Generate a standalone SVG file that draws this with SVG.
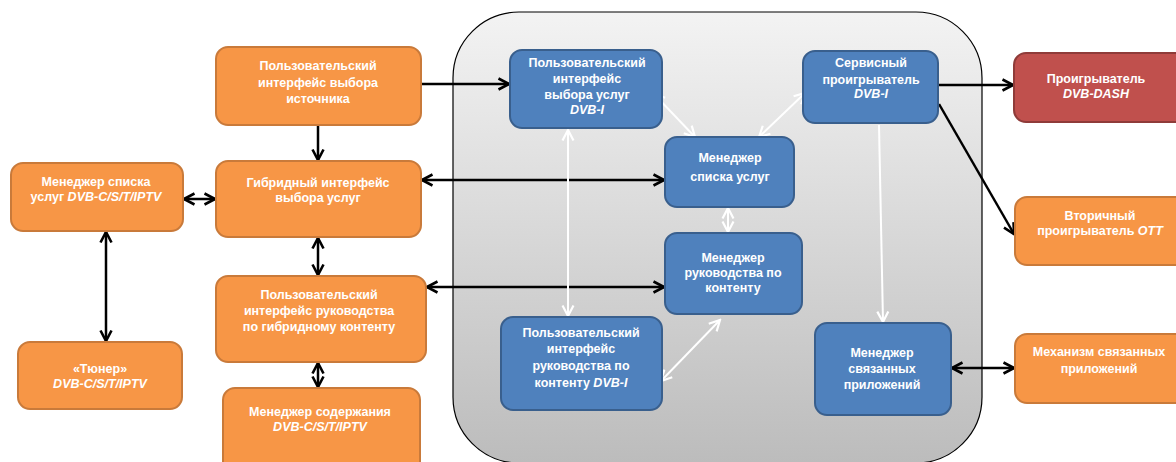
<svg xmlns="http://www.w3.org/2000/svg" width="1176" height="462" viewBox="0 0 1176 462">
<defs>
<linearGradient id="bg" x1="0" y1="0" x2="0" y2="1">
<stop offset="0" stop-color="#f3f3f3"/>
<stop offset="1" stop-color="#bcbcbc"/>
</linearGradient>
<marker id="kb" viewBox="0 0 14 14" refX="12.5" refY="7" markerWidth="14" markerHeight="14" markerUnits="userSpaceOnUse" orient="auto-start-reverse">
<path d="M2,1.5 L12.5,7 L2,12.5" fill="none" stroke="#000" stroke-width="2.6"/>
</marker>
<marker id="wb" viewBox="0 0 14 14" refX="12.5" refY="7" markerWidth="14" markerHeight="14" markerUnits="userSpaceOnUse" orient="auto-start-reverse">
<path d="M2,1.5 L12.5,7 L2,12.5" fill="none" stroke="#fff" stroke-width="2.2"/>
</marker>
</defs>
<style>
.or{fill:#f79646;stroke:#c97a3a;stroke-width:2}
.bl{fill:#4f81bd;stroke:#395f8d;stroke-width:2}
.rd{fill:#c0504d;stroke:#8f3b39;stroke-width:2}
text{font-family:"Liberation Sans",Arial,sans-serif;font-size:12.5px;font-weight:bold;fill:#fff;text-anchor:middle}
.i{font-style:italic}
.k{stroke:#000;stroke-width:2.5;fill:none}
.w{stroke:#fff;stroke-width:2;fill:none}
</style>
<rect id="container" x="453" y="12" width="529" height="451" rx="66" ry="66" fill="url(#bg)" stroke="#000" stroke-width="1.2"/>

<g id="connectors">
<line class="k" x1="421" y1="84" x2="509" y2="84" marker-end="url(#kb)"/>
<line class="k" x1="318" y1="125" x2="318" y2="160" marker-end="url(#kb)"/>
<line class="k" x1="184" y1="199" x2="215" y2="199" marker-start="url(#kb)" marker-end="url(#kb)"/>
<line class="k" x1="106" y1="232" x2="106" y2="341" marker-start="url(#kb)" marker-end="url(#kb)"/>
<line class="k" x1="318" y1="238" x2="318" y2="275" marker-start="url(#kb)" marker-end="url(#kb)"/>
<line class="k" x1="318" y1="363" x2="318" y2="387" marker-start="url(#kb)" marker-end="url(#kb)"/>
<line class="k" x1="422" y1="180" x2="664" y2="180" marker-start="url(#kb)" marker-end="url(#kb)"/>
<line class="k" x1="427" y1="287" x2="664" y2="287" marker-start="url(#kb)" marker-end="url(#kb)"/>
<line class="k" x1="939" y1="85" x2="1013" y2="85" marker-end="url(#kb)"/>
<line class="k" x1="939" y1="104" x2="1014" y2="234" marker-end="url(#kb)"/>
<line class="k" x1="952" y1="368" x2="1014" y2="368" marker-start="url(#kb)" marker-end="url(#kb)"/>
<line class="w" x1="654" y1="94" x2="695" y2="137" marker-start="url(#wb)" marker-end="url(#wb)"/>
<line class="w" x1="805" y1="93" x2="759" y2="137" marker-start="url(#wb)" marker-end="url(#wb)"/>
<line class="w" x1="728" y1="208" x2="728" y2="232" marker-start="url(#wb)" marker-end="url(#wb)"/>
<line class="w" x1="568" y1="130" x2="568" y2="316" marker-start="url(#wb)" marker-end="url(#wb)"/>
<line class="w" x1="720" y1="320" x2="661" y2="381" marker-start="url(#wb)" marker-end="url(#wb)"/>
<line class="w" x1="879" y1="125" x2="883" y2="322" marker-end="url(#wb)"/>
</g>

<g id="n-source-ui"><rect class="or" x="216" y="47" width="205" height="78" rx="12"/>
<text x="318" y="70">Пользовательский</text><text x="318" y="87">интерфейс выбора</text><text x="318" y="103">источника</text></g>

<g id="n-hybrid-ui"><rect class="or" x="216" y="161" width="205" height="76" rx="12"/>
<text x="318" y="187">Гибридный интерфейс</text><text x="318" y="202">выбора услуг</text></g>

<g id="n-list-mgr"><rect class="or" x="11" y="163" width="172" height="68" rx="12"/>
<text x="96" y="186">Менеджер списка</text><text x="96" y="201">услуг <tspan class="i">DVB-C/S/T/IPTV</tspan></text></g>

<g id="n-tuner"><rect class="or" x="18" y="342" width="164" height="67" rx="12"/>
<text x="100" y="373">«Тюнер»</text><text x="100" y="388" class="i">DVB-C/S/T/IPTV</text></g>

<g id="n-hybrid-guide"><rect class="or" x="216" y="276" width="210" height="86" rx="12"/>
<text x="319" y="299">Пользовательский</text><text x="319" y="315">интерфейс руководства</text><text x="319" y="331">по гибридному контенту</text></g>

<g id="n-content-mgr"><rect class="or" x="223" y="388" width="197" height="90" rx="12"/>
<text x="320" y="416">Менеджер содержания</text><text x="320" y="431" class="i">DVB-C/S/T/IPTV</text></g>

<g id="n-dash"><rect class="rd" x="1014" y="53" width="175" height="69" rx="12"/>
<text x="1096" y="83">Проигрыватель</text><text x="1096" y="98" class="i">DVB-DASH</text></g>

<g id="n-ott"><rect class="or" x="1015" y="197" width="175" height="68" rx="12"/>
<text x="1100" y="220">Вторичный</text><text x="1100" y="235">проигрыватель <tspan class="i">OTT</tspan></text></g>

<g id="n-linked-mech"><rect class="or" x="1015" y="334" width="175" height="69" rx="12"/>
<text x="1099" y="356">Механизм связанных</text><text x="1099" y="373">приложений</text></g>

<g id="n-dvbi-select"><rect class="bl" x="510" y="50" width="152" height="78" rx="12"/>
<text x="587" y="67">Пользовательский</text><text x="587" y="83">интерфейс</text><text x="587" y="99">выбора услуг</text><text x="587" y="114" class="i">DVB-I</text></g>

<g id="n-service-list"><rect class="bl" x="665" y="137" width="129" height="70" rx="12"/>
<text x="730" y="162">Менеджер</text><text x="730" y="181">списка услуг</text></g>

<g id="n-service-player"><rect class="bl" x="803" y="51" width="135" height="72" rx="12"/>
<text x="871" y="67">Сервисный</text><text x="871" y="84">проигрыватель</text><text x="871" y="98" class="i">DVB-I</text></g>

<g id="n-guide-mgr"><rect class="bl" x="665" y="233" width="137" height="81" rx="12"/>
<text x="733" y="262">Менеджер</text><text x="733" y="277">руководства по</text><text x="733" y="292">контенту</text></g>

<g id="n-dvbi-guide"><rect class="bl" x="501" y="317" width="161" height="93" rx="12"/>
<text x="581" y="337">Пользовательский</text><text x="581" y="353">интерфейс</text><text x="581" y="370">руководства по</text><text x="581" y="387">контенту <tspan class="i">DVB-I</tspan></text></g>

<g id="n-linked-mgr"><rect class="bl" x="815" y="323" width="136" height="92" rx="12"/>
<text x="882" y="357">Менеджер</text><text x="882" y="373">связанных</text><text x="882" y="389">приложений</text></g>
</svg>
